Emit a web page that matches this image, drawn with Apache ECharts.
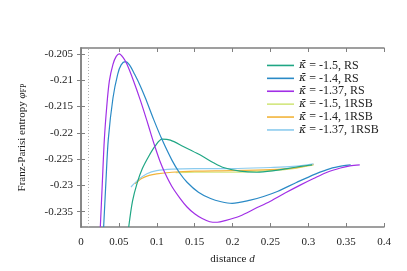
<!DOCTYPE html>
<html>
<head>
<meta charset="utf-8">
<script src="https://cdn.jsdelivr.net/npm/echarts@6/dist/echarts.min.js"></script>
<style>html,body{margin:0;padding:0;background:#fff}#c{width:407px;height:271px}</style>
</head>
<body>
<div id="c"></div>
<script>
// ---- data ----
const xTicks = [0, 0.05, 0.1, 0.15, 0.2, 0.25, 0.3, 0.35, 0.4];
const yTicks = [-0.235, -0.23, -0.225, -0.22, -0.215, -0.21, -0.205];
const refLineD = 0.01;

const rs150 = [[0.063,-0.2379],[0.068,-0.2330],[0.074,-0.2296],[0.081,-0.2268],[0.0893,-0.2245],[0.098,-0.2225],[0.107,-0.2212],[0.118,-0.2214],[0.135,-0.2226],[0.153,-0.2239],[0.162,-0.2246],[0.175,-0.2257],[0.188,-0.2266],[0.21,-0.2273],[0.232,-0.2275],[0.255,-0.2272],[0.272,-0.2268],[0.29,-0.2264],[0.305,-0.2261]];
const rs140 = [[0.0299,-0.2379],[0.033,-0.2290],[0.036,-0.2213],[0.0422,-0.2134],[0.0484,-0.2089],[0.053,-0.2071],[0.0585,-0.2065],[0.064,-0.2071],[0.0708,-0.2089],[0.078,-0.2110],[0.085,-0.2134],[0.096,-0.2175],[0.107,-0.2213],[0.12,-0.2252],[0.13,-0.2276],[0.14,-0.2294],[0.155,-0.2313],[0.171,-0.2325],[0.185,-0.2331],[0.1995,-0.2334],[0.2236,-0.2328],[0.241,-0.2321],[0.26,-0.2311],[0.285,-0.2294],[0.31,-0.2278],[0.329,-0.2268],[0.345,-0.2263],[0.356,-0.2261]];
const rs137 = [[0.0255,-0.2379],[0.028,-0.2300],[0.0308,-0.2213],[0.034,-0.2150],[0.0374,-0.2102],[0.0422,-0.2070],[0.0465,-0.2055],[0.0506,-0.2050],[0.0555,-0.2057],[0.0607,-0.2070],[0.0695,-0.2102],[0.0783,-0.2138],[0.0872,-0.2178],[0.0925,-0.2203],[0.098,-0.2228],[0.104,-0.2253],[0.111,-0.2277],[0.12,-0.2302],[0.131,-0.2325],[0.14,-0.2341],[0.15,-0.2354],[0.16,-0.2363],[0.17,-0.2369],[0.18,-0.2370],[0.19,-0.2367],[0.21,-0.2358],[0.23,-0.2344],[0.25,-0.2330],[0.27,-0.2314],[0.29,-0.2299],[0.307,-0.2287],[0.325,-0.2275],[0.3425,-0.2267],[0.355,-0.2263],[0.368,-0.2261]];
const rsb150 = [[0.125,-0.2276],[0.15,-0.2275],[0.2,-0.2275],[0.25,-0.2272],[0.28,-0.2268],[0.307,-0.2261]];
const rsb140 = [[0.071,-0.2297],[0.08,-0.2287],[0.09,-0.2281],[0.1,-0.2278],[0.12,-0.2275],[0.15,-0.2273],[0.2,-0.2272],[0.25,-0.2270],[0.28,-0.2267],[0.307,-0.2260]];
const rsb137 = [[0.066,-0.2303],[0.075,-0.2290],[0.087,-0.2278],[0.1,-0.2272],[0.12,-0.2269],[0.15,-0.2268],[0.2,-0.2268],[0.25,-0.2266],[0.28,-0.2264],[0.307,-0.2259]];

const names = ['κ̄ = -1.5, RS','κ̄ = -1.4, RS','κ̄ = -1.37, RS','κ̄ = -1.5, 1RSB','κ̄ = -1.4, 1RSB','κ̄ = -1.37, 1RSB'];
const colors = ['#1fa684','#2a8ac6','#a12fe6','#d2e67e','#f2b43a','#8ccbee'];
const datasets = [rs150, rs140, rs137, rsb150, rsb140, rsb137];

const font = 'Liberation Serif';
const axisCol = '#808080';
const series = datasets.map((d, i) => ({
  name: names[i], type: 'line', data: d, smooth: 0.3, symbol: 'none',
  lineStyle: {width: 1.2, color: colors[i]}, itemStyle: {color: colors[i]},
  z: i < 3 ? 3 : 2
}));
series[0].markLine = {
  silent: true, symbol: 'none', label: {show: false},
  lineStyle: {type: [1, 2], color: '#b0b0b0', width: 1},
  data: [{xAxis: refLineD}]
};
const chart = echarts.init(document.getElementById('c'), null, {renderer: 'canvas'});
chart.setOption({
  animation: false,
  color: colors,
  grid: {left: 81, right: 23, top: 48, bottom: 44},
  legend: {
    orient: 'vertical', left: 262, top: 54, itemGap: 0,
    icon: 'rect', itemWidth: 27, itemHeight: 1.6,
    data: names,
    textStyle: {fontFamily: font, fontSize: 12, color: '#222', lineHeight: 12.9,
      rich: {k: {fontFamily: 'DejaVu Serif', fontSize: 11, fontStyle: 'italic', color: '#222', lineHeight: 12.9}}},
    formatter: n => n.replace('κ̄', '{k|κ̄}')
  },
  xAxis: [{
    type: 'value', min: 0, max: 0.4, interval: 0.05,
    name: '{a|distance }{i|d}', nameLocation: 'middle', nameGap: 27,
    nameTextStyle: {rich: {a: {fontFamily: font, fontSize: 11, color: '#222'}, i: {fontFamily: font, fontSize: 11, fontStyle: 'italic', color: '#222'}}},
    axisLine: {show: true, lineStyle: {color: axisCol, width: 1.5}},
    axisTick: {show: true, inside: true, length: 4, lineStyle: {color: axisCol}},
    axisLabel: {fontFamily: font, fontSize: 11, color: '#222', margin: 10, customValues: xTicks},
    splitLine: {show: false}
  }, {
    type: 'value', min: 0, max: 0.4, interval: 0.05, position: 'top',
    axisLine: {show: true, lineStyle: {color: axisCol, width: 1.5}},
    axisTick: {show: true, inside: true, length: 4, lineStyle: {color: axisCol}},
    axisLabel: {show: false}, splitLine: {show: false}
  }],
  yAxis: [{
    type: 'value', min: -0.2379, max: -0.2039,
    name: '{a|Franz-Parisi entropy }{i|φ}{s|FP}', nameLocation: 'middle', nameGap: 53, nameRotate: 90,
    nameTextStyle: {rich: {
      a: {fontFamily: font, fontSize: 11, color: '#222'},
      i: {fontFamily: font, fontSize: 11, fontStyle: 'italic', color: '#222'},
      s: {fontFamily: font, fontSize: 8, color: '#222', verticalAlign: 'bottom', padding: [4, 0, 0, 0]}
    }},
    axisLine: {show: true, lineStyle: {color: axisCol, width: 1.5}},
    axisTick: {show: true, inside: true, length: 4, lineStyle: {color: axisCol}, customValues: yTicks},
    axisLabel: {fontFamily: font, fontSize: 11, color: '#222', margin: 8, customValues: yTicks},
    splitLine: {show: false}
  }, {
    type: 'value', min: -0.2379, max: -0.2039, position: 'right',
    axisLine: {show: true, lineStyle: {color: axisCol, width: 1.5}},
    axisTick: {show: true, inside: true, length: 4, lineStyle: {color: axisCol}, customValues: yTicks},
    axisLabel: {show: false}, splitLine: {show: false}
  }],
  series: series
});
</script>
</body>
</html>
